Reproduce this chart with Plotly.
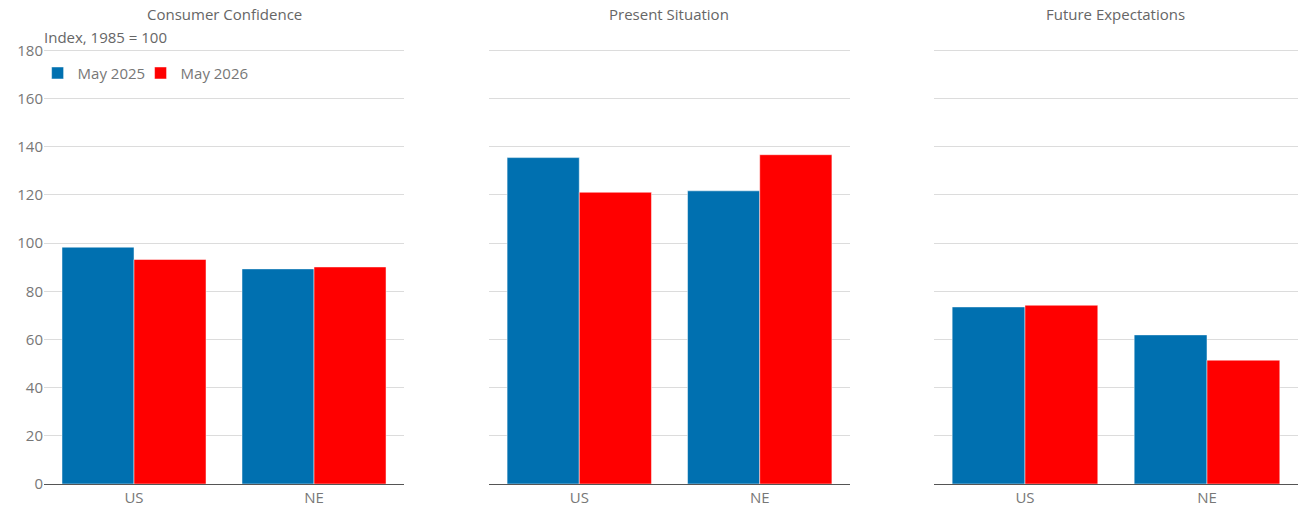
import plotly.graph_objects as go

categories = ["US", "NE"]
panels = ["Consumer Confidence", "Present Situation", "Future Expectations"]
may_2025 = [[98.3, 89.3], [135.5, 121.7], [73.5, 61.9]]
may_2026 = [[93.2, 90.1], [121.1, 136.7], [74.2, 51.4]]
series_names = ["May 2025", "May 2026"]
y_ticks = [0, 20, 40, 60, 80, 100, 120, 140, 160, 180]

BLUE = "#0070B0"
RED = "#FF0000"
GRAY = "#777777"

domains = [[0.0, 0.2871], [0.3549, 0.6427], [0.7097, 1.0]]

fig = go.Figure()
for i, name in enumerate(panels):
    xa = "x" if i == 0 else f"x{i+1}"
    ya = "y" if i == 0 else f"y{i+1}"
    for vals, sname, col, lg in [(may_2025[i], series_names[0], BLUE, "legend"),
                                 (may_2026[i], series_names[1], RED, "legend2")]:
        fig.add_trace(go.Bar(
            x=categories, y=vals, name=sname, xaxis=xa, yaxis=ya,
            marker=dict(color=col, line=dict(color="rgba(255,255,255,0.6)", width=0.8)),
            showlegend=(i == 0), legendgroup=sname, legend=lg,
        ))
    xkey = "xaxis" if i == 0 else f"xaxis{i+1}"
    ykey = "yaxis" if i == 0 else f"yaxis{i+1}"
    fig.layout[xkey] = dict(domain=domains[i], anchor=ya, showline=True, linecolor="#555555",
                            linewidth=1, ticks="", showgrid=False,
                            tickfont=dict(size=15, color=GRAY))
    fig.layout[ykey] = dict(anchor=xa, range=[0, 181], tickvals=y_ticks,
                            showticklabels=(i == 0), showgrid=True, gridcolor="#dcdcdc",
                            zeroline=False, ticks="", tickfont=dict(size=15, color=GRAY))
    fig.add_annotation(text=name, xref="paper", yref="paper",
                       x=(domains[i][0] + domains[i][1]) / 2, y=1.0, yshift=34,
                       showarrow=False, xanchor="center", yanchor="middle",
                       font=dict(size=15, color="#666666"))

fig.add_annotation(text="Index, 1985 = 100", xref="paper", yref="paper", x=0, y=1.0,
                   yshift=11, xshift=-2, xanchor="left", yanchor="middle", showarrow=False,
                   font=dict(size=15, color="#666666"))

legend_style = dict(orientation="h", y=0.98, xanchor="left", yanchor="top",
                    font=dict(size=15, color=GRAY), bgcolor="rgba(0,0,0,0)", itemwidth=30)

fig.update_layout(
    width=1298, height=506,
    margin=dict(l=44, r=0, t=48, b=22),
    paper_bgcolor="white", plot_bgcolor="white",
    font=dict(family="Open Sans", size=15, color=GRAY),
    barmode="group", bargap=0.2, bargroupgap=0,
    legend=dict(x=-0.0051, **legend_style),
    legend2=dict(x=0.0770, **legend_style),
)

fig.write_html("out.html")
